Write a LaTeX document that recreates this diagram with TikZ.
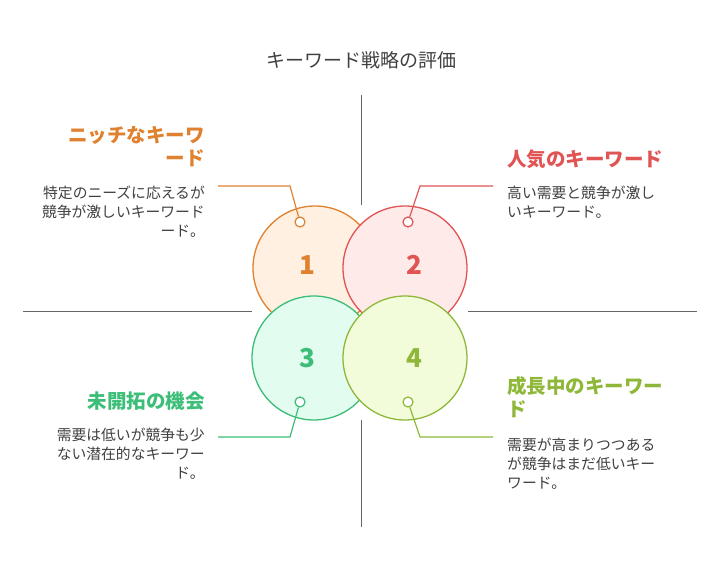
\documentclass[tikz,border=0pt]{standalone}
\usepackage{fontspec}
\setmainfont{Noto Sans CJK JP}
\usetikzlibrary{positioning}
\definecolor{cOne}{HTML}{E0812F}
\definecolor{cTwo}{HTML}{E05454}
\definecolor{cThree}{HTML}{3CBE78}
\definecolor{cFour}{HTML}{8FB83A}
\definecolor{fOne}{HTML}{FFF0E2}
\definecolor{fTwo}{HTML}{FFEAEA}
\definecolor{fThree}{HTML}{E2FCEF}
\definecolor{fFour}{HTML}{F2FCDA}
\tikzset{%
    quad/.style={circle,draw,line width=1.3pt,minimum size=124pt,inner sep=0pt},
    num/.style={font=\fontsize{26}{26}\selectfont\bfseries},
    dot/.style={circle,draw,line width=1.2pt,fill=white,minimum size=10pt,inner sep=0pt},
    lead/.style={line width=1.2pt},
    axis/.style={gray!80!black,line width=1pt},
    head/.style={font=\fontsize{19.5}{23}\selectfont\bfseries,inner sep=0pt},
    desc/.style={font=\fontsize{14.8}{19}\selectfont,text=black!75,inner sep=0pt},
}
\begin{document}
\begin{tikzpicture}[x=1pt,y=-1pt]
        \useasboundingbox (0,0) rectangle (721,576);
        \node[font=\fontsize{19}{19}\selectfont,text=black!75] (title) at (361,60) {キーワード戦略の評価};
        % axes
        \draw[axis] (361,95) -- (361,205);
        \draw[axis] (361,420) -- (361,527);
        \draw[axis] (23,311) -- (252,311);
        \draw[axis] (468,311) -- (697,311);
        % circles
        \node[quad,draw=cOne,fill=fOne] (q1) at (315,268) {};
        \node[quad,draw=cTwo,fill=fTwo] (q2) at (405,268) {};
        \node[quad,draw=cThree,fill=fThree] (q3) at (314,358) {};
        \node[quad,draw=cFour,fill=fFour] (q4) at (405,358) {};
        \node[num,text=cOne] (n1) at (307,265) {1};
        \node[num,text=cTwo] (n2) at (414,265) {2};
        \node[num,text=cThree] (n3) at (307,358) {3};
        \node[num,text=cFour] (n4) at (414,358) {4};
        % leaders
        \coordinate (k1) at (290,186); \coordinate (e1) at (218,186);
        \coordinate (k2) at (420,186); \coordinate (e2) at (493,186);
        \coordinate (k3) at (290,437); \coordinate (e3) at (218,437);
        \coordinate (k4) at (420,437); \coordinate (e4) at (493,437);
        \node[dot,draw=cOne] (d1) at (300,222) {};
        \node[dot,draw=cTwo] (d2) at (408,222) {};
        \node[dot,draw=cThree] (d3) at (300,402) {};
        \node[dot,draw=cFour] (d4) at (408,402) {};
        \draw[lead,cOne] (d1) -- (k1) -- (e1);
        \draw[lead,cTwo] (d2) -- (k2) -- (e2);
        \draw[lead,cThree] (d3) -- (k3) -- (e3);
        \draw[lead,cFour] (d4) -- (k4) -- (e4);
        % labels
        \node[head,text=cOne,align=right,anchor=north east] (h1) at (205,126) {ニッチなキーワ\\ード};
        \node[desc,align=right,anchor=north east] (t1) at (205,186) {特定のニーズに応えるが\\競争が激しいキーワード\\ード。};
        \node[head,text=cTwo,align=left,anchor=north west] (h2) at (507,150) {人気のキーワード};
        \node[desc,align=left,anchor=north west] (t2) at (507,186) {高い需要と競争が激し\\いキーワード。};
        \node[head,text=cThree,align=right,anchor=north east] (h3) at (205,392) {未開拓の機会};
        \node[desc,align=right,anchor=north east] (t3) at (205,428) {需要は低いが競争も少\\ない潜在的なキーワー\\ド。};
        \node[head,text=cFour,align=left,anchor=north west] (h4) at (507,376) {成長中のキーワー\\ド};
        \node[desc,align=left,anchor=north west] (t4) at (507,438) {需要が高まりつつある\\が競争はまだ低いキー\\ワード。};
    \end{tikzpicture}
\end{document}
